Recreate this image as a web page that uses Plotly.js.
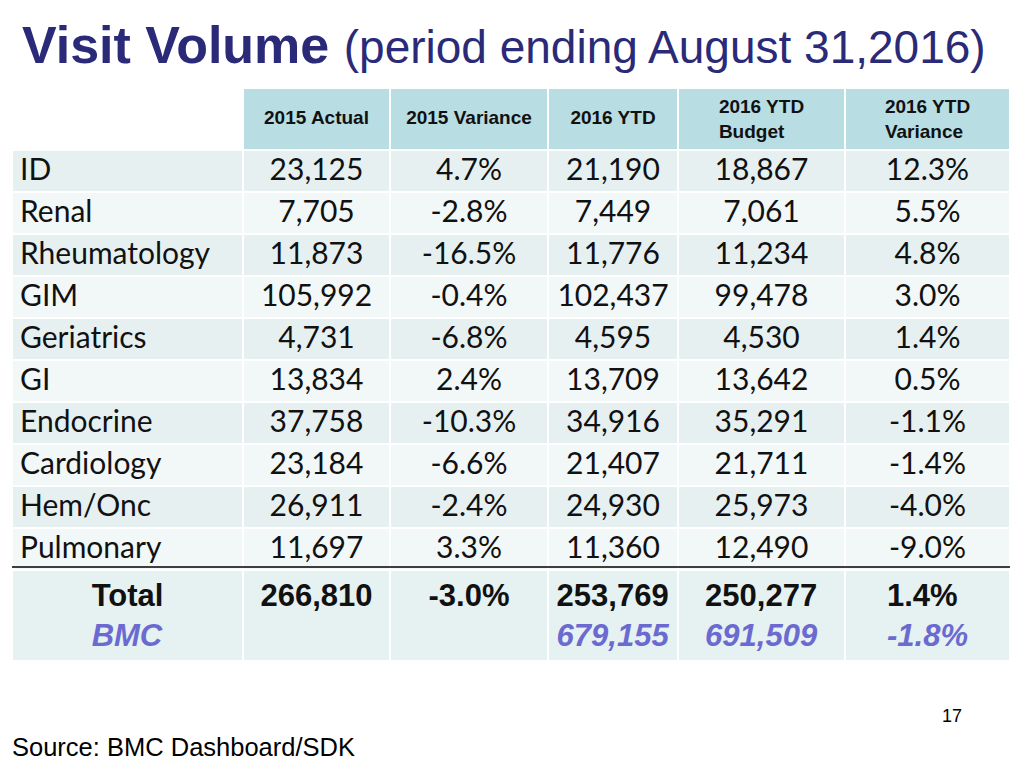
<!DOCTYPE html>
<html>
<head>
<meta charset="utf-8">
<script src="https://cdn.plot.ly/plotly-3.0.1.min.js"></script>
<style>html,body{margin:0;padding:0;background:#fff;}#chart{width:1024px;height:768px;}</style>
</head>
<body>
<div id="chart"></div>
<script>
// ---- data ----
var headers = ['', '2015 Actual', '2015 Variance', '2016 YTD', '2016 YTD<br>Budget', '2016 YTD<br>Variance'];
var categories = ['ID','Renal','Rheumatology','GIM','Geriatrics','GI','Endocrine','Cardiology','Hem/Onc','Pulmonary'];
var actual2015 = [23125, 7705, 11873, 105992, 4731, 13834, 37758, 23184, 26911, 11697];
var variance2015 = [4.7, -2.8, -16.5, -0.4, -6.8, 2.4, -10.3, -6.6, -2.4, 3.3];
var ytd2016 = [21190, 7449, 11776, 102437, 4595, 13709, 34916, 21407, 24930, 11360];
var budget2016 = [18867, 7061, 11234, 99478, 4530, 13642, 35291, 21711, 25973, 12490];
var ytdVariance2016 = [12.3, 5.5, 4.8, 3.0, 1.4, 0.5, -1.1, -1.4, -4.0, -9.0];
var totalLabel = 'Total';
var bmcLabel = 'BMC';
var totals = {actual2015: 266810, variance2015: -3.0, ytd2016: 253769, budget2016: 250277, ytdVariance2016: 1.4};
var bmc = {ytd2016: 679155, budget2016: 691509, ytdVariance2016: -1.8};

// ---- helpers ----
var BMC_COLOR = '#6a6ad0';
var HEADER_SIZE = 19;
function num(v){ return v.toLocaleString('en-US'); }
function pct(v){ return v.toFixed(1) + '%'; }
function tot(a, b){ return '<b>' + a + '</b>' + (b !== undefined ? '<br><span style="color:' + BMC_COLOR + '"><b><i>' + b + '</i></b></span>' : ''); }

var n = categories.length;
var col0 = categories.concat([tot(totalLabel, bmcLabel)]);
var col1 = actual2015.map(num).concat([tot(num(totals.actual2015))]);
var col2 = variance2015.map(pct).concat([tot(pct(totals.variance2015))]);
var col3 = ytd2016.map(num).concat([tot(num(totals.ytd2016), num(bmc.ytd2016))]);
var col4 = budget2016.map(num).concat([tot(num(totals.budget2016), num(bmc.budget2016))]);
var col5 = ytdVariance2016.map(pct).concat([tot(pct(totals.ytdVariance2016), pct(bmc.ytdVariance2016))]);

// header: single-line labels are pushed down (small blank first line) to sit vertically centred
var headerText = [], headerSize = [];
headers.forEach(function(h){
  if (h === '' || h.indexOf('<br>') >= 0) {
    headerText.push('<b>' + h + '</b>');
    headerSize.push(HEADER_SIZE);
  } else {
    headerText.push('\u00a0<br><span style="font-size:' + HEADER_SIZE + 'px"><b>' + h + '</b></span>');
    headerSize.push(12.7);
  }
});

var rowFill = [];
for (var i = 0; i < n; i++) rowFill.push(i % 2 === 0 ? '#e6f0f1' : '#f2f7f8');
rowFill.push('#e6f1f2');
var fills = [rowFill, rowFill, rowFill, rowFill, rowFill, rowFill];

function colArr(normal, last){ var a=[]; for (var i=0;i<n;i++) a.push(normal); a.push(last); return a; }
var fam = colArr('Lato, Carlito, sans-serif', 'Liberation Sans, Arial, sans-serif');
var size = colArr(30, 31);
var fonts = {family: [fam,fam,fam,fam,fam,fam], size: [size,size,size,size,size,size], color: '#111'};

var trace = {
  type: 'table',
  domain: {x: [12/1024, 1010/1024], y: [0.05, 1 - 88/768]},
  columnwidth: [231, 147, 158, 130, 167, 165],
  header: {
    values: headerText,
    height: 58,
    align: 'center',
    fill: {color: ['#ffffff', '#b8dde2', '#b8dde2', '#b8dde2', '#b8dde2', '#b8dde2']},
    line: {color: '#ffffff', width: 2},
    font: {family: 'Liberation Sans, Arial, sans-serif', size: headerSize, color: '#111'}
  },
  cells: {
    values: [col0, col1, col2, col3, col4, col5],
    height: 42,
    align: [colArr('left', 'center'), 'center', 'center', 'center', 'center', 'center'],
    fill: {color: fills},
    line: {color: '#ffffff', width: 2},
    font: fonts
  }
};

var layout = {
  width: 1024, height: 768,
  margin: {l: 0, r: 0, t: 0, b: 0},
  paper_bgcolor: '#ffffff',
  title: {
    text: '<b>Visit Volume</b> <span style="font-size:46px">(period ending August 31,2016)</span>',
    font: {family: 'Liberation Sans, Arial, sans-serif', size: 52, color: '#2a2a78'},
    x: 22/1024, xanchor: 'left', y: 1 - 45/768, yanchor: 'middle'
  },
  shapes: [{type: 'line', xref: 'paper', yref: 'paper', x0: 12/1024, x1: 1010/1024, y0: 1 - 567/768, y1: 1 - 567/768, line: {color: '#000', width: 1.5}}],
  annotations: [
    {text: 'Source: BMC Dashboard/SDK', xref: 'paper', yref: 'paper', x: 10/1024, y: 1 - 747/768, xanchor: 'left', yanchor: 'middle', showarrow: false, font: {family: 'Liberation Sans, Arial, sans-serif', size: 25.5, color: '#000'}},
    {text: '17', xref: 'paper', yref: 'paper', x: 952/1024, y: 1 - 716/768, xanchor: 'center', yanchor: 'middle', showarrow: false, font: {family: 'Liberation Sans, Arial, sans-serif', size: 18, color: '#000'}}
  ]
};

Plotly.newPlot('chart', [trace], layout, {displayModeBar: false, staticPlot: true});
</script>
</body>
</html>
